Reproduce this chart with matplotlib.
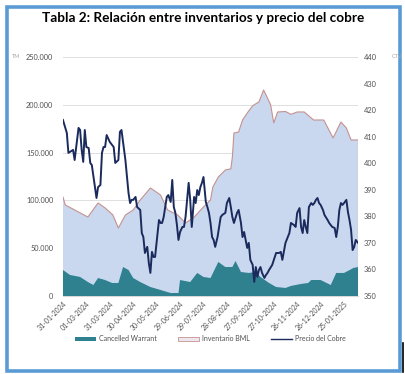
import pandas as pd
import matplotlib
matplotlib.use("Agg")
import matplotlib.pyplot as plt
import matplotlib.ticker as mticker
from matplotlib.patches import Patch, Rectangle
from matplotlib.lines import Line2D

plt.rcParams['font.family'] = ['Lato', 'DejaVu Sans']

start = pd.Timestamp('2024-01-31')

# Inventario BML (TM), days counted from 31-01-2024
inv_days = [0, 3, 15, 32, 45, 54, 64, 71, 80, 90, 99, 112, 125, 134, 147, 157, 167, 180,
            189, 192, 199, 208, 215, 217, 219, 225, 230, 237, 243, 251, 257, 262, 266,
            270, 275, 285, 292, 300, 309, 321, 334, 346, 356, 363, 369, 378]
inv_tm = [103600, 95200, 90000, 82600, 97300, 92100, 84700, 71100, 84700, 90000, 100400,
          113000, 105600, 90000, 84700, 76400, 81600, 93100, 100400, 114000, 124500,
          131800, 133000, 145400, 170500, 171500, 184100, 192500, 199000, 203000, 215500,
          207000, 200000, 181000, 192500, 193000, 190000, 192500, 192500, 184100, 184100,
          165300, 182000, 175700, 163200, 163200]

# Cancelled Warrant (TM)
cw_days = [0, 9, 22, 32, 39, 45, 54, 63, 71, 77, 84, 90, 99, 112, 125, 138, 148, 150,
           163, 172, 180, 189, 199, 208, 217, 221, 228, 238, 247, 253, 264, 273, 285,
           292, 305, 314, 318, 330, 343, 350, 360, 365, 372, 378]
cw_tm = [27200, 22000, 19900, 14600, 11500, 18800, 16700, 13600, 13600, 30300, 27200,
         18800, 14600, 9400, 6300, 3100, 3100, 16700, 14600, 24100, 19900, 18800, 35600,
         30300, 30300, 36600, 25100, 24100, 25100, 19900, 13600, 9400, 8400, 10500, 12600,
         13600, 16700, 16700, 11500, 24100, 24100, 26200, 29300, 30300]

# Precio del Cobre (ctv)
cu_days = [0, 5, 7, 13, 15, 20, 22, 24, 26, 28, 30, 33, 35, 37, 41, 43, 45, 48, 50, 52,
           54, 56, 60, 65, 67, 71, 73, 75, 80, 84, 86, 88, 90, 93, 95, 99, 101, 103, 105,
           108, 110, 112, 114, 116, 118, 123, 125, 127, 129, 133, 135, 138, 140, 142, 144,
           146, 148, 150, 153, 155, 157, 161, 163, 165, 168, 170, 172, 174, 176, 178, 180,
           183, 185, 187, 189, 191, 193, 195, 198, 202, 204, 208, 210, 213, 215, 217, 219,
           221, 223, 225, 228, 230, 232, 234, 236, 238, 240, 243, 245, 247, 249, 251, 253,
           255, 258, 260, 262, 264, 268, 273, 277, 279, 281, 285, 290, 292, 296, 298, 300,
           303, 305, 307, 309, 311, 313, 315, 318, 320, 322, 324, 326, 328, 330, 333, 335,
           339, 341, 343, 345, 348, 350, 352, 354, 356, 358, 360, 363, 365, 367, 369, 371,
           373, 375, 378]
cu_ctv = [416.3, 411.4, 403.9, 405.0, 401.2, 413.3, 412.5, 405.0, 400.5, 412.5, 406.1,
          405.7, 400.1, 399.3, 391.0, 386.9, 391.0, 391.8, 403.9, 406.1, 406.1, 410.6,
          408.0, 406.1, 400.1, 401.2, 411.8, 412.5, 401.2, 388.8, 385.0, 386.2, 386.2,
          387.3, 383.5, 382.4, 373.7, 372.2, 366.2, 368.5, 362.4, 358.7, 366.6, 364.7,
          364.7, 378.6, 377.5, 377.5, 379.7, 387.3, 388.0, 385.4, 393.7, 383.5, 381.3,
          376.7, 371.1, 374.1, 376.0, 376.0, 379.7, 392.6, 386.2, 376.0, 387.3, 385.0,
          389.9, 388.0, 391.0, 392.6, 394.8, 385.4, 383.5, 381.3, 377.5, 372.2, 371.1,
          368.5, 372.2, 379.7, 380.5, 381.3, 385.0, 386.9, 383.5, 379.7, 377.5, 379.4,
          381.3, 382.4, 377.5, 372.2, 374.1, 371.1, 368.1, 370.0, 363.6, 361.7, 355.3,
          360.9, 357.2, 359.8, 360.9, 358.7, 356.8, 357.9, 358.7, 359.8, 361.7, 366.2,
          366.2, 366.6, 363.6, 370.0, 373.7, 377.5, 376.7, 376.0, 381.3, 383.1, 376.0,
          373.7, 378.6, 376.0, 373.7, 383.5, 385.0, 384.3, 385.0, 386.2, 386.9, 385.0,
          384.3, 382.4, 380.5, 378.6, 377.5, 376.7, 376.0, 375.6, 372.2, 376.0, 382.4,
          385.0, 384.3, 385.0, 386.2, 381.6, 378.6, 374.9, 367.3, 368.5, 371.1, 370.0]

tick_dates = ['31-01-2024', '01-03-2024', '31-03-2024', '30-04-2024', '30-05-2024',
              '29-06-2024', '29-07-2024', '28-08-2024', '27-09-2024', '27-10-2024',
              '26-11-2024', '26-12-2024', '25-01-2025']

inv_x = start + pd.to_timedelta(inv_days, unit='D')
cw_x = start + pd.to_timedelta(cw_days, unit='D')
cu_x = start + pd.to_timedelta(cu_days, unit='D')
ticks = pd.to_datetime(tick_dates, format='%d-%m-%Y')

c_light = '#c9d8ee'
c_edge = '#c4928f'
c_teal = '#2f8190'
c_navy = '#1b2a5c'
c_text = '#505050'

fig = plt.figure(figsize=(4.06, 3.74), dpi=100)
ax = fig.add_axes([0.155, 0.2086, 0.727, 0.639])
ax2 = ax.twinx()

ax.fill_between(inv_x, 0, inv_tm, facecolor=c_light, edgecolor='none', zorder=2)
ax.plot(inv_x, inv_tm, color=c_edge, lw=0.8, zorder=3)
ax.vlines(inv_x[-1], 0, inv_tm[-1], color=c_edge, lw=0.8, zorder=3)
ax.fill_between(cw_x, 0, cw_tm, facecolor=c_teal, edgecolor='none', zorder=4)

ax2.plot(cu_x, cu_ctv, color=c_navy, lw=1.4)

ax.set_xlim(inv_x[0], inv_x[-1])
ax.set_ylim(0, 250000)
ax.set_yticks(range(0, 250001, 50000))
ax.yaxis.set_major_formatter(mticker.FuncFormatter(lambda v, p: f"{int(v):,}".replace(',', '.')))
ax2.set_ylim(350, 440)
ax2.set_yticks(range(350, 441, 10))

ax.set_xticks(ticks)
ax.set_xticklabels(tick_dates, rotation=45, ha='right', rotation_mode='anchor')

ax.set_axisbelow(True)
ax.yaxis.grid(True, color='#d9d9d9', lw=0.6)
for a in (ax, ax2):
    for s in a.spines.values():
        s.set_visible(False)
    a.tick_params(length=0, labelsize=5.3, colors=c_text)
ax.spines['bottom'].set_visible(True)
ax.spines['bottom'].set_color('#d9d9d9')
ax.tick_params(axis='y', pad=7)
ax2.tick_params(axis='y', pad=4)
ax.tick_params(axis='x', pad=3, labelsize=5)

fig.text(0.5, 0.952, 'Tabla 2: Relación entre inventarios y precio del cobre',
         ha='center', va='center', fontsize=9.8, fontweight='bold', color='black')
fig.text(0.03, 0.8476, 'TM', ha='left', va='center', fontsize=4, color='#a6a6a6')
fig.text(0.965, 0.8476, 'CTV', ha='left', va='center', fontsize=4, color='#a6a6a6')

handles = [Patch(facecolor=c_teal, edgecolor='none'),
           Patch(facecolor='#ece6ee', edgecolor=c_edge, lw=0.6),
           Line2D([0], [0], color=c_navy, lw=1)]
fig.legend(handles, ['Cancelled Warrant', 'Inventario BML', 'Precio del Cobre'],
           loc='center', bbox_to_anchor=(0.518, 0.094), ncol=3, frameon=False,
           fontsize=5, handlelength=3, handleheight=0.6, columnspacing=3,
           handletextpad=0.5, labelcolor=c_text)

# blue frame around the figure
fig.patches.append(Rectangle((6.5 / 406, 1 - 370.5 / 374), 393.5 / 406, 364 / 374,
                             transform=fig.transFigure, fill=False,
                             edgecolor='#5b9bd5', lw=2.6))
fig.lines.append(Line2D([403 / 406, 403 / 406], [1 - 372 / 374, 1 - 343 / 374],
                        transform=fig.transFigure, color='black', lw=1.2))

fig.savefig('out.png', dpi=100)
